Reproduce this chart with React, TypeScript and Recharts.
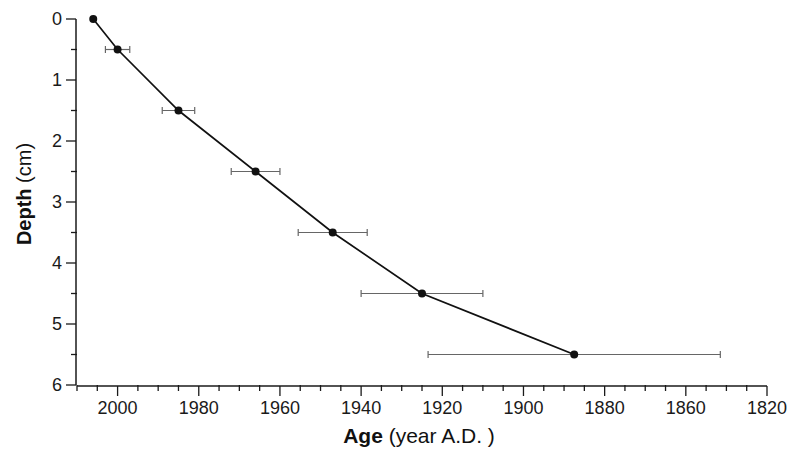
import { ComposedChart, Line, Scatter, ErrorBar, XAxis, YAxis, Label } from "recharts";

const ages = [2006, 2000, 1985, 1966, 1947, 1925, 1887.5];
const depths = [0, 0.5, 1.5, 2.5, 3.5, 4.5, 5.5];
const ageErrors: (number | null)[] = [null, 3, 4, 6, 8.5, 15, 36];

const ageMajor = [2000, 1980, 1960, 1940, 1920, 1900, 1880, 1860, 1840];
const ageMinor = [2010, 2005, 1995, 1990, 1985, 1975, 1970, 1965, 1955, 1950, 1945, 1935, 1930, 1925, 1915, 1910, 1905, 1895, 1890, 1885, 1875, 1870, 1865, 1855, 1850, 1845];
// last tick on the original axis is printed as "1820"
const ageLabels: Record<number, string> = { 1840: "1820" };
const depthMajor = [0, 1, 2, 3, 4, 5, 6];
const depthMinor = [0.5, 1.5, 2.5, 3.5, 4.5, 5.5];

const data = ages.map((a, i) => ({ age: a, depth: depths[i], err: ageErrors[i] }));

const FONT = '"Liberation Sans", Arial, sans-serif';
const INK = "#1a1a1a";

const Dot = (p: any) => <circle cx={p.cx} cy={p.cy} r={4} fill="#111" />;
const NoLabel = () => <g />;

export default function App() {
  return (
    <div style={{ position: "absolute", left: 0, top: 0 }}>
      <ComposedChart width={800} height={460} data={data} margin={{ top: 19, right: 33, bottom: 0, left: 0 }}>
        {/* minor ticks sit on the default axis ids so they stack next to the plot */}
        <XAxis
          type="number"
          dataKey="age"
          domain={[1840, 2010]}
          reversed
          ticks={ageMinor}
          interval={0}
          tick={<NoLabel />}
          tickSize={6}
          tickLine={{ stroke: INK, strokeWidth: 1.3 }}
          axisLine={false}
          height={1}
          allowDataOverflow
        />
        <XAxis
          xAxisId="main"
          type="number"
          dataKey="age"
          domain={[1840, 2010]}
          reversed
          ticks={ageMajor}
          interval={0}
          tickFormatter={(v: number) => ageLabels[v] ?? String(v)}
          tick={{ fontSize: 18, fill: INK, fontFamily: FONT }}
          tickSize={10}
          tickMargin={5}
          tickLine={{ stroke: INK, strokeWidth: 1.3 }}
          height={74}
          axisLine={{ stroke: INK, strokeWidth: 1.5 }}
          allowDataOverflow
        >
          <Label
            content={() => (
              <text x={419} y={443} textAnchor="middle" fontSize={21} fill="#111" fontFamily={FONT}>
                <tspan fontWeight="bold">Age</tspan>
                <tspan> (year A.D. )</tspan>
              </text>
            )}
          />
        </XAxis>
        <YAxis
          type="number"
          dataKey="depth"
          domain={[0, 6]}
          reversed
          ticks={depthMinor}
          interval={0}
          tick={<NoLabel />}
          tickSize={6}
          tickLine={{ stroke: INK, strokeWidth: 1.3 }}
          axisLine={false}
          width={1}
        />
        <YAxis
          yAxisId="main"
          type="number"
          dataKey="depth"
          domain={[0, 6]}
          reversed
          ticks={depthMajor}
          interval={0}
          tick={{ fontSize: 18, fill: INK, fontFamily: FONT }}
          tickSize={10}
          tickMargin={4}
          tickLine={{ stroke: INK, strokeWidth: 1.3 }}
          width={76}
          axisLine={{ stroke: INK, strokeWidth: 1.5 }}
        >
          <Label
            content={() => (
              <text
                x={31}
                y={194}
                textAnchor="middle"
                fontSize={20}
                fill="#111"
                fontFamily={FONT}
                transform="rotate(-90 31 194)"
              >
                <tspan fontWeight="bold">Depth</tspan>
                <tspan> (cm)</tspan>
              </text>
            )}
          />
        </YAxis>
        <Line
          dataKey="depth"
          type="linear"
          stroke="#111"
          strokeWidth={1.7}
          dot={false}
          activeDot={false}
          isAnimationActive={false}
        />
        <Scatter dataKey="depth" shape={<Dot />} isAnimationActive={false}>
          <ErrorBar dataKey="err" direction="x" width={3.5} stroke="#666" strokeWidth={1.2} />
        </Scatter>
      </ComposedChart>
    </div>
  );
}
